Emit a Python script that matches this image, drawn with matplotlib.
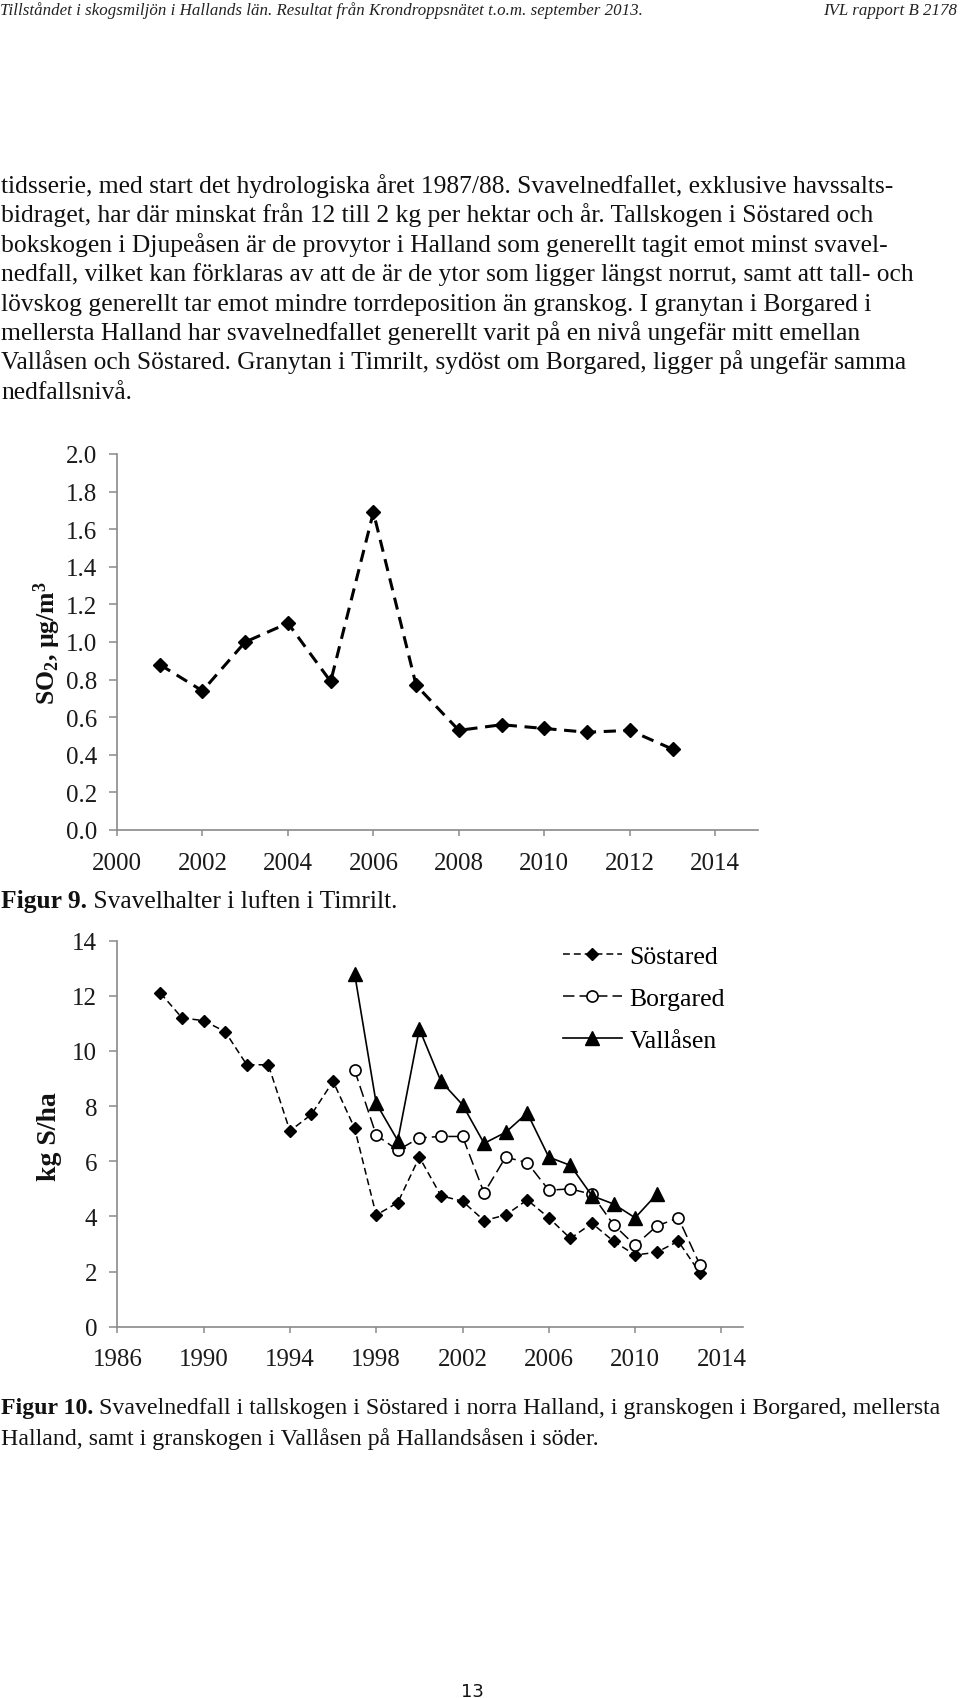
import matplotlib
matplotlib.use('Agg')
import matplotlib.pyplot as plt
import numpy as np
from matplotlib.ticker import FormatStrFormatter

# ---------------- data ----------------
so2_years = list(range(2001, 2014))
so2_values = [0.88, 0.74, 1.00, 1.10, 0.79, 1.69, 0.77, 0.53, 0.56, 0.54, 0.52, 0.53, 0.43]

sostared_years = list(range(1988, 2014))
sostared = [12.1, 11.2, 11.1, 10.7, 9.5, 9.5, 7.1, 7.7, 8.9, 7.2, 4.05, 4.5, 6.15,
            4.75, 4.55, 3.85, 4.05, 4.6, 3.95, 3.2, 3.75, 3.1, 2.6, 2.7, 3.1, 1.95]
borgared_years = list(range(1997, 2014))
borgared = [9.3, 6.95, 6.4, 6.85, 6.9, 6.9, 4.85, 6.15, 5.95, 4.95, 5.0, 4.8, 3.7,
            2.95, 3.65, 3.95, 2.25]
vallasen_years = list(range(1997, 2012))
vallasen = [12.8, 8.1, 6.75, 10.8, 8.9, 8.05, 6.65, 7.05, 7.75, 6.15, 5.85, 4.75,
            4.45, 3.95, 4.8]

so2_xticks = list(range(2000, 2015, 2))
so2_yticks = [0.0, 0.2, 0.4, 0.6, 0.8, 1.0, 1.2, 1.4, 1.6, 1.8, 2.0]
dep_xticks = list(range(1986, 2015, 4))
dep_yticks = list(range(0, 15, 2))

header_left = "Tillståndet i skogsmiljön i Hallands län. Resultat från Krondroppsnätet t.o.m. september 2013."
header_right = "IVL rapport B 2178"
body_lines = [
    "tidsserie, med start det hydrologiska året 1987/88. Svavelnedfallet, exklusive havssalts-",
    "bidraget, har där minskat från 12 till 2 kg per hektar och år. Tallskogen i Söstared och",
    "bokskogen i Djupeåsen är de provytor i Halland som generellt tagit emot minst svavel-",
    "nedfall, vilket kan förklaras av att de är de ytor som ligger längst norrut, samt att tall- och",
    "lövskog generellt tar emot mindre torrdeposition än granskog. I granytan i Borgared i",
    "mellersta Halland har svavelnedfallet generellt varit på en nivå ungefär mitt emellan",
    "Vallåsen och Söstared. Granytan i Timrilt, sydöst om Borgared, ligger på ungefär samma",
    "nedfallsnivå.",
]
fig9_bold = "Figur 9."
fig9_text = " Svavelhalter i luften i Timrilt."
fig10_bold = "Figur 10."
fig10_text1 = " Svavelnedfall i tallskogen i Söstared i norra Halland, i granskogen i Borgared, mellersta"
fig10_text2 = "Halland, samt i granskogen i Vallåsen på Hallandsåsen i söder."
page_number = "13"

# ---------------- layout ----------------
SERIF = 'Liberation Serif'
plt.rcParams['mathtext.fontset'] = 'custom'
plt.rcParams['mathtext.rm'] = 'Liberation Serif:bold'
plt.rcParams['mathtext.it'] = 'Liberation Serif:bold'
plt.rcParams['mathtext.bf'] = 'Liberation Serif:bold'

W, H = 960, 1699
fig = plt.figure(figsize=(W / 100, H / 100), dpi=100)
fig.patch.set_facecolor('white')
r = fig.canvas.get_renderer()


def fx(x):
    return x / W


def fy(y):
    return 1 - y / H


def twidth(t):
    return t.get_window_extent(renderer=r).width


# header
t = fig.text(fx(0), fy(15), header_left, family=SERIF, style='italic', fontsize=12,
             va='baseline', ha='left', color='#222222')
hs = 12 * 637 / twidth(t)
t.set_fontsize(hs)
fig.text(fx(957), fy(15), header_right, family=SERIF, style='italic', fontsize=hs,
         va='baseline', ha='right', color='#222222')

# body text
probe = fig.text(0, 0, body_lines[3], family=SERIF, fontsize=16)
bs = 16 * 912 / twidth(probe)
probe.remove()
for i, line in enumerate(body_lines):
    fig.text(fx(1), fy(193 + i * 29.4), line, family=SERIF, fontsize=bs,
             va='baseline', ha='left', color='#111111')

# caption size fitted to the width of the first Figur 10 line
pb = fig.text(0, 0, fig10_bold, family=SERIF, fontsize=16, weight='bold')
pr = fig.text(0, 0, fig10_text1, family=SERIF, fontsize=16)
cs = 16 * 940 / (twidth(pb) + twidth(pr))
pb.remove()
pr.remove()


def caption(x, y, bold, rest, size):
    tb = fig.text(fx(x), fy(y), bold, family=SERIF, fontsize=size, weight='bold',
                  va='baseline', ha='left', color='#111111')
    wb = twidth(tb)
    fig.text(fx(x + wb), fy(y), rest, family=SERIF, fontsize=size,
             va='baseline', ha='left', color='#111111')


caption(1, 908, fig9_bold, fig9_text, bs)
caption(1, 1414, fig10_bold, fig10_text1, cs)
fig.text(fx(1), fy(1445), fig10_text2, family=SERIF, fontsize=cs,
         va='baseline', ha='left', color='#111111')

fig.text(fx(472), fy(1697), page_number, family='DejaVu Sans', fontsize=13,
         va='baseline', ha='center', color='#111111')

GRAY = '#8a8a8a'


def style_axes(ax):
    for s in ['top', 'right']:
        ax.spines[s].set_visible(False)
    for s in ['left', 'bottom']:
        ax.spines[s].set_color(GRAY)
        ax.spines[s].set_linewidth(1.2)
    ax.tick_params(axis='y', direction='out', length=5.5, width=1.1, color=GRAY,
                   labelsize=18, pad=9, labelcolor='#1a1a1a')
    ax.tick_params(axis='x', direction='out', length=4.5, width=1.1, color=GRAY,
                   labelsize=18, pad=11, labelcolor='#1a1a1a')
    for lab in ax.get_xticklabels() + ax.get_yticklabels():
        lab.set_family(SERIF)
    ax.set_facecolor('white')


# ---------------- chart 1 ----------------
ax1 = fig.add_axes([fx(117), fy(831), (758 - 117) / W, (831 - 455) / H])
ax1.plot(so2_years, so2_values, color='black', lw=2.2, dashes=(4, 2.5),
         marker='D', ms=7.5, mfc='black', mec='black', clip_on=False)
ax1.set_xlim(2000, 2015)
ax1.set_ylim(0, 2.0)
ax1.set_xticks(so2_xticks)
ax1.set_yticks(so2_yticks)
ax1.yaxis.set_major_formatter(FormatStrFormatter('%.1f'))
style_axes(ax1)
fig.text(fx(47), fy(643), r'SO$_2$, µg/m$^3$', family=SERIF, weight='bold',
         fontsize=18.5, rotation=90, ha='center', va='center', color='#111111')

# ---------------- chart 2 ----------------
ax2 = fig.add_axes([fx(117.3), fy(1327.7), (743 - 117.3) / W, (1327.7 - 941.7) / H])
l1, = ax2.plot(sostared_years, sostared, color='black', lw=1.1, dashes=(4.5, 2.6),
               marker='D', ms=6, mfc='black', mec='black', label='Söstared', clip_on=False)
l2, = ax2.plot(borgared_years, borgared, color='black', lw=1.1, dashes=(7.5, 3.3),
               marker='o', ms=8, mfc='white', mec='black', mew=1.2, label='Borgared',
               clip_on=False)
l3, = ax2.plot(vallasen_years, vallasen, color='black', lw=1.2, ls='-',
               marker='^', ms=10, mfc='black', mec='black', label='Vallåsen', clip_on=False)
ax2.set_xlim(1986, 2015)
ax2.set_ylim(0, 14)
ax2.set_xticks(dep_xticks)
ax2.set_yticks(dep_yticks)
style_axes(ax2)
leg = ax2.legend(handles=[l1, l2, l3], loc='upper left', bbox_to_anchor=(0.712, 0.99),
                 frameon=False, prop={'family': SERIF, 'size': 18.5}, handlelength=2.3,
                 handletextpad=0.3, labelspacing=0.75, borderpad=0, borderaxespad=0,
                 numpoints=1)
fig.text(fx(50), fy(1137), 'kg S/ha', family=SERIF, weight='bold',
         fontsize=20, rotation=90, ha='center', va='center', color='#111111')

fig.savefig('out.png', dpi=100, facecolor='white')
